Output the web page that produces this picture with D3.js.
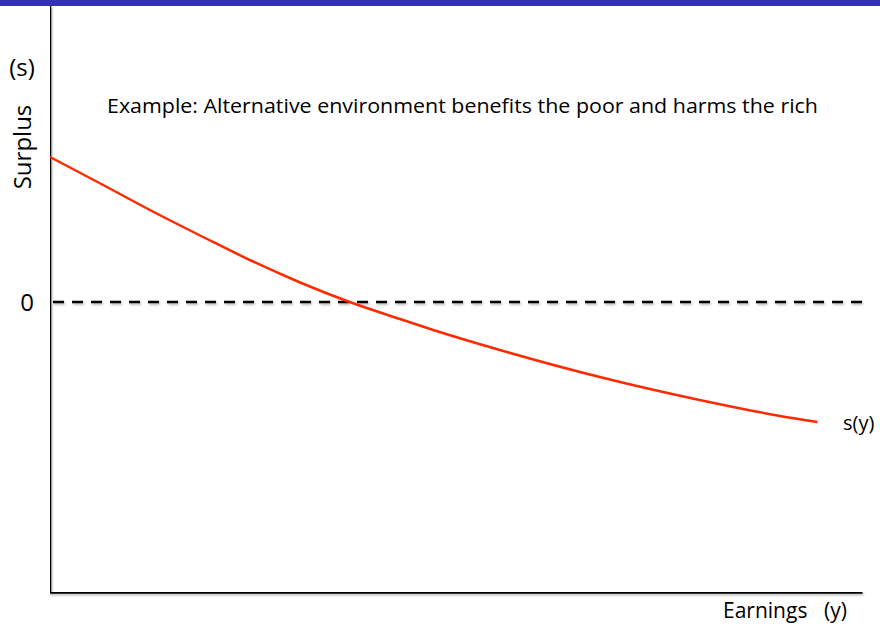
<!DOCTYPE html>
<html>
<head>
<meta charset="utf-8">
<script src="https://cdn.jsdelivr.net/npm/d3@7"></script>
<style>
  html, body { margin: 0; padding: 0; background: #fff; }
  svg { display: block; }
  text { font-family: "Open Sans", "Lato", sans-serif; fill: #000; }
</style>
</head>
<body>
<svg id="chart" width="880" height="629"></svg>
<script>
// Data
const earnings = [0, 6.2, 12.3, 19.1, 24.6, 30.8, 36.9, 43.1, 47.2, 55.4, 67.7, 80.0, 89.9, 94.5];
const surplus  = [1.45, 1.185, 0.92, 0.64, 0.42, 0.195, 0, -0.17, -0.28, -0.48, -0.75, -0.98, -1.14, -1.20];
const zeroLevel = [0];
const yTickLabels = ["0"];
const titleText = "Example: Alternative environment benefits the poor and harms the rich";
const xAxisLabel = ["Earnings", "(y)"];
const yAxisLabel = ["Surplus", "(s)"];
const curveLabel = "s(y)";

const svg = d3.select("#chart");

// top bar
svg.append("rect").attr("x", 0).attr("y", 0).attr("width", 880).attr("height", 6).attr("fill", "#3333b1");

const x = d3.scaleLinear().domain([0, 100]).range([50, 862]);
const y = d3.scaleLinear().domain([-2.9, 2.96]).range([592, 6]);

// shadow filter (user space so zero-height lines still render)
const defs = svg.append("defs");
const f = defs.append("filter").attr("id", "sh").attr("filterUnits", "userSpaceOnUse")
  .attr("x", 0).attr("y", 0).attr("width", 880).attr("height", 629);
f.append("feDropShadow").attr("dx", 1).attr("dy", 1.5).attr("stdDeviation", 1)
  .attr("flood-color", "#000").attr("flood-opacity", 0.3);

// zero dashed line
svg.selectAll("line.zero").data(zeroLevel).enter().append("line")
  .attr("class", "zero")
  .attr("x1", x(0) + 3).attr("x2", x(100))
  .attr("y1", d => y(d)).attr("y2", d => y(d))
  .attr("stroke", "#000").attr("stroke-width", 2.5)
  .attr("stroke-dasharray", "11,8")
  .attr("filter", "url(#sh)");

// axes (no ticks)
const yAxis = d3.axisLeft(y).tickValues([]).tickSize(0).tickSizeOuter(0);
const xAxis = d3.axisBottom(x).tickValues([]).tickSize(0).tickSizeOuter(0);
const gy = svg.append("g").attr("transform", `translate(${x(0)},0)`).call(yAxis);
const gx = svg.append("g").attr("transform", `translate(0,${y.range()[0]})`).call(xAxis);
[gx, gy].forEach(g => g.select(".domain").attr("stroke", "#000").attr("stroke-width", 2.5).attr("fill", "none").attr("filter", "url(#sh)"));
gy.select(".domain").attr("d", `M0,${y.range()[1]}V${y.range()[0] + 1.25}`);

// curve
const line = d3.line().x((d, i) => x(earnings[i])).y(d => y(d)).curve(d3.curveMonotoneX);
svg.append("path").datum(surplus).attr("d", line)
  .attr("fill", "none").attr("stroke", "#ff2a00").attr("stroke-width", 2.5);

// tick label 0
svg.selectAll("text.ytick").data(yTickLabels).enter().append("text")
  .attr("class", "ytick")
  .attr("x", 27).attr("y", y(0)).attr("dy", "0.36em")
  .attr("text-anchor", "middle").attr("font-size", 24).text(d => d);

// title
svg.append("text").attr("x", 107).attr("y", 113).attr("font-size", 19.5)
  .attr("textLength", 711).attr("lengthAdjust", "spacingAndGlyphs").text(titleText);

// y label
svg.append("text").attr("transform", "translate(31,147) rotate(-90)")
  .attr("text-anchor", "middle").attr("font-size", 24).text(yAxisLabel[0]);
svg.append("text").attr("x", 22).attr("y", 76).attr("text-anchor", "middle").attr("font-size", 24).text(yAxisLabel[1]);

// x label
svg.append("text").attr("x", 723).attr("y", 618).attr("font-size", 21).text(xAxisLabel[0]);
svg.append("text").attr("x", 824).attr("y", 618).attr("font-size", 21).text(xAxisLabel[1]);

// curve label
svg.append("text").attr("x", 843).attr("y", 430).attr("font-size", 20).text(curveLabel);
</script>
</body>
</html>
